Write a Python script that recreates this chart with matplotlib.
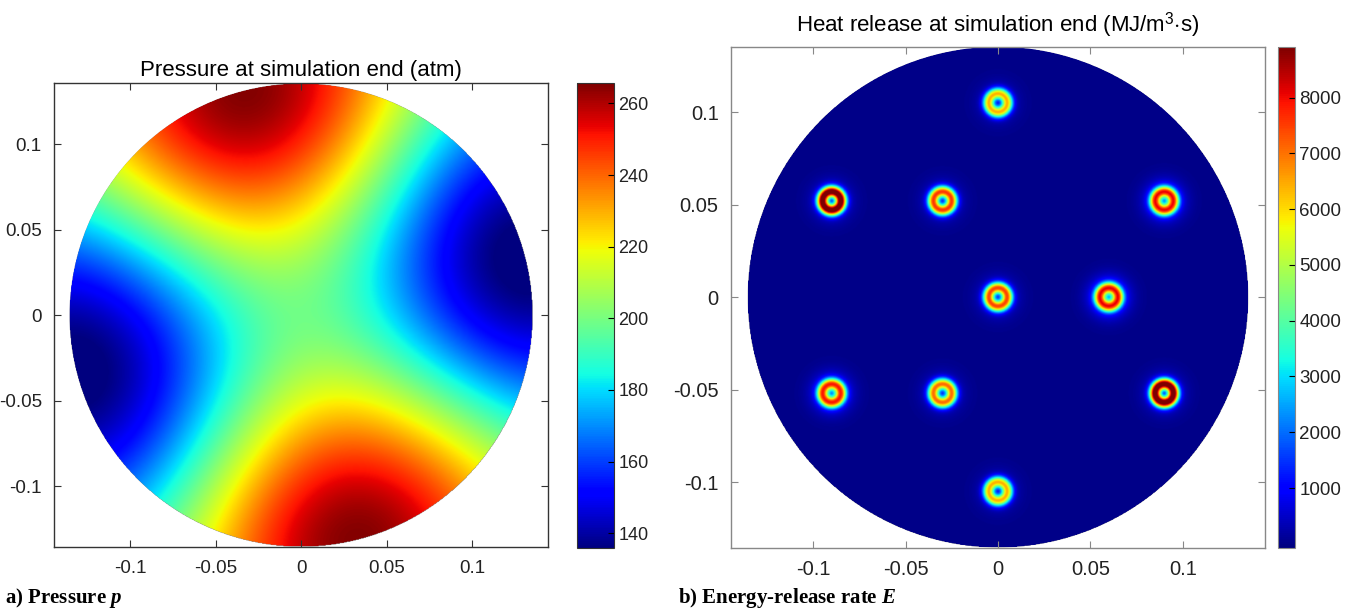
import matplotlib

matplotlib.use("Agg")
import matplotlib.pyplot as plt
import numpy as np
from matplotlib.patches import Circle

plt.rcParams["font.family"] = ["Liberation Sans", "DejaVu Sans"]
plt.rcParams["mathtext.fontset"] = "custom"
plt.rcParams["mathtext.rm"] = "Liberation Sans"
plt.rcParams["mathtext.it"] = "Liberation Serif:italic:bold"

# chamber and pressure mode
R_CHAMBER = 0.1355
P_MEAN = 199.0
P_AMP = 66.0
P_PEAK_ANGLE = 104.0  # deg, location of the upper pressure maximum
P_CLIM = (135.8, 265.6)
P_TICKS = [140, 160, 180, 200, 220, 240, 260]

# injector heat release spots
spot_x = [0.0, -0.09, -0.03, 0.09, 0.0, 0.06, -0.09, -0.03, 0.09, 0.0]
spot_y = [0.105, 0.052, 0.052, 0.052, 0.0, 0.0, -0.052, -0.052, -0.052, -0.105]
spot_peak = [5800, 8900, 6800, 6600, 6600, 6400, 6500, 6300, 8900, 5800]
spot_halo = [800, 1200, 1000, 1900, 1100, 2200, 1800, 1000, 1200, 800]
E_CLIM = (-80.0, 8900.0)
E_TICKS = [1000, 2000, 3000, 4000, 5000, 6000, 7000, 8000]

ax_ticks = [-0.1, -0.05, 0, 0.05, 0.1]
ax_ticklabels = ["-0.1", "-0.05", "0", "0.05", "0.1"]
XLIM = 0.1443
YLIM = 0.1355


def bessel_j2(x):
    # power series, fine for x < 4
    out = np.zeros_like(x)
    fact = [1.0]
    for i in range(1, 30):
        fact.append(fact[-1] * i)
    for k in range(14):
        out += (-1) ** k / (fact[k] * fact[k + 2]) * (x / 2.0) ** (2 * k + 2)
    return out


n = 700
g = np.linspace(-XLIM, XLIM, n)
gy = np.linspace(-YLIM, YLIM, n)
X, Y = np.meshgrid(g, gy)
r = np.hypot(X, Y)
th = np.arctan2(Y, X)
inside = r <= R_CHAMBER

kR = 3.0542  # first zero of J2'
p = P_MEAN + P_AMP * bessel_j2(kR * r / R_CHAMBER) / bessel_j2(np.array(kR)) * np.cos(
    2 * (th - np.deg2rad(P_PEAK_ANGLE))
)
p = np.where(inside, p, np.nan)

E = np.zeros_like(X)
for sx, sy, pk, hl in zip(spot_x, spot_y, spot_peak, spot_halo):
    d = np.hypot(X - sx, Y - sy)
    E += pk * np.exp(-(((d - 0.0050) / 0.0030) ** 2)) + hl * np.exp(-((d / 0.0098) ** 2))
E = np.where(inside, E, np.nan)

W, H = 1352, 610
fig = plt.figure(figsize=(W / 100, H / 100), dpi=100)


def px_axes(x0, y0, x1, y1):
    return fig.add_axes([x0 / W, 1 - y1 / H, (x1 - x0) / W, (y1 - y0) / H])


def style_field_axes(ax, fs, edge):
    ax.set_xlim(-XLIM, XLIM)
    ax.set_ylim(-YLIM, YLIM)
    ax.set_xticks(ax_ticks)
    ax.set_xticklabels(ax_ticklabels)
    ax.set_yticks(ax_ticks)
    ax.set_yticklabels(ax_ticklabels)
    ax.tick_params(direction="in", length=5, top=True, right=True, labelsize=fs,
                   color=edge, pad=9, labelcolor="#222222")
    for s in ax.spines.values():
        s.set_color(edge)
        s.set_linewidth(1.0)


def draw_field(ax, data, clim):
    im = ax.imshow(data, extent=(-XLIM, XLIM, -YLIM, YLIM), origin="lower",
                   cmap="jet", vmin=clim[0], vmax=clim[1], interpolation="bilinear")
    circ = Circle((0, 0), R_CHAMBER, transform=ax.transData, facecolor="none", edgecolor="none")
    ax.add_patch(circ)
    im.set_clip_path(circ)
    return im


# panel a
ax1 = px_axes(54.3, 83.3, 548.3, 547.3)
im1 = draw_field(ax1, p, P_CLIM)
style_field_axes(ax1, 13.5, "#333333")
ax1.set_title("Pressure at simulation end (atm)", fontsize=16, pad=5)

cax1 = px_axes(577, 83.3, 614.3, 548.3)
cb1 = fig.colorbar(im1, cax=cax1, ticks=P_TICKS)
cb1.ax.tick_params(direction="in", length=4, labelsize=13, labelcolor="#222222", pad=3)
cb1.outline.set_edgecolor("#333333")

# panel b
ax2 = px_axes(731, 46.7, 1265, 547.7)
im2 = draw_field(ax2, E, E_CLIM)
style_field_axes(ax2, 14.5, "#888888")
ax2.set_title(r"Heat release at simulation end (MJ/m$^{\mathrm{3}}$$\cdot$s)", fontsize=16, pad=11)

cax2 = px_axes(1277.7, 47.3, 1295, 548.3)
cb2 = fig.colorbar(im2, cax=cax2, ticks=E_TICKS)
cb2.ax.tick_params(direction="in", length=4, labelsize=13.5, labelcolor="#222222", pad=3)
cb2.outline.set_edgecolor("#888888")

fig.text(5 / W, 1 - 603 / H, r"a) Pressure $p$", family="Liberation Serif",
         weight="bold", fontsize=15, va="baseline")
fig.text(678 / W, 1 - 603 / H, r"b) Energy-release rate $E$", family="Liberation Serif",
         weight="bold", fontsize=15, va="baseline")

fig.savefig("out.png", dpi=100)
